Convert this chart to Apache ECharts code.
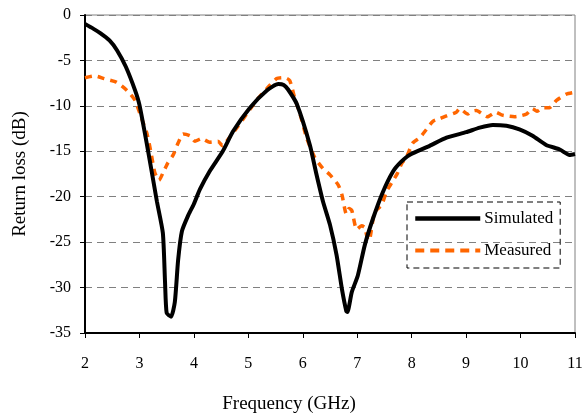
<!DOCTYPE html>
<html>
<head>
<meta charset="utf-8">
<script src="https://cdn.jsdelivr.net/npm/echarts@6/dist/echarts.min.js"></script>
<style>
  html, body { margin: 0; padding: 0; background: #fff; }
  #chart { width: 584px; height: 417px; }
</style>
</head>
<body>
<div id="chart"></div>
<script>
const simFreq = [2.0, 2.15, 2.28, 2.45, 2.59, 2.75, 2.92, 3.0, 3.16, 3.32, 3.43, 3.47, 3.5, 3.58, 3.65, 3.71, 3.78, 3.9, 4.0,
  4.11, 4.29, 4.53, 4.72, 5.03, 5.34, 5.55, 5.65, 5.73, 5.89, 6.13, 6.25, 6.37, 6.5, 6.62, 6.72, 6.8, 6.82, 6.9, 7.01,
  7.14, 7.29, 7.47, 7.66, 7.8, 7.96, 8.33, 8.64, 9.0, 9.25, 9.49, 9.74, 9.98, 10.22, 10.47, 10.72, 10.9, 11.0];
const simLoss = [-1.0, -1.5, -2.0, -2.8, -3.9, -5.7, -8.3, -9.9, -15, -20.5, -24, -29.4, -32.8, -33.2, -31.6, -27, -23.8, -22, -20.8,
  -19.2, -17.2, -15, -12.8, -10.2, -8.3, -7.6, -7.7, -8.2, -9.8, -14.3, -17.5, -20.5, -23.1, -26.4, -30.2, -32.6, -32.7, -30.5, -28.7,
  -25.3, -22.4, -19.5, -17.2, -16.2, -15.4, -14.4, -13.5, -12.9, -12.4, -12.1, -12.2, -12.6, -13.3, -14.3, -14.8, -15.4, -15.3];

const measFreq = [2.0, 2.18, 2.35, 2.58, 2.77, 2.92, 3.01, 3.14, 3.22, 3.28, 3.36, 3.43, 3.52, 3.62, 3.71, 3.8, 3.93, 4.02, 4.14,
  4.29, 4.44, 4.53, 4.6, 4.79, 4.97, 5.15, 5.34, 5.52, 5.67, 5.76, 5.85, 5.95, 6.07, 6.22, 6.37, 6.5, 6.65, 6.72, 6.8, 6.85,
  6.9, 6.99, 7.08, 7.14, 7.2, 7.23, 7.32, 7.45, 7.54, 7.65, 7.74, 7.82, 7.9, 8.02, 8.15, 8.27, 8.39, 8.52, 8.64, 8.82, 8.88,
  9.03, 9.1, 9.19, 9.3, 9.39, 9.55, 9.65, 9.74, 9.89, 10.0, 10.11, 10.22, 10.3, 10.41, 10.53, 10.66, 10.84, 11.0];
const measLoss = [-6.9, -6.7, -7.0, -7.4, -8.3, -9.4, -10.9, -13.1, -15.4, -17.3, -18.2, -17.4, -16.3, -15.4, -14.1, -13.1, -13.3, -13.9, -13.6,
  -14.0, -13.9, -14.4, -13.9, -12.4, -10.9, -9.4, -8.1, -7.0, -6.9, -7.2, -9.1, -10.9, -13.5, -15.7, -16.9, -17.6, -18.7, -19.8, -21.9, -21.3,
  -21.5, -23.6, -23.2, -23.4, -24.8, -24.7, -21.7, -20.9, -19.4, -18.3, -17.4, -16.3, -15.7, -14.1, -13.5, -12.6, -11.7, -11.4, -11.1, -10.7, -10.3,
  -10.9, -10.6, -10.5, -10.9, -11.2, -10.7, -11.0, -11.1, -11.2, -11.1, -10.9, -10.3, -10.6, -10.2, -10.2, -9.4, -8.7, -8.5];

const font = 'Liberation Serif';
const zip = (xs, ys) => xs.map((x, i) => [x, ys[i]]);

const chart = echarts.init(document.getElementById('chart'));
chart.setOption({
  animation: false,
  backgroundColor: '#fff',
  textStyle: { fontFamily: font },
  grid: {
    left: 85, right: 9, top: 15, bottom: 84,
    outerBoundsMode: 'none',
    containLabel: false,
    show: true, borderColor: '#808080', borderWidth: 1
  },
  legend: {
    orient: 'vertical',
    left: 407, top: 202,
    padding: [8, 7, 9, 6],
    itemGap: 15,
    itemWidth: 65,
    itemHeight: 14,
    borderColor: '#000',
    borderWidth: 1,
    borderType: [6, 4],
    itemStyle: { opacity: 0 },
    textStyle: { fontFamily: font, fontSize: 17, color: '#000', padding: [0, 0, 0, -1] },
    data: [
      { name: 'Simulated', lineStyle: { color: '#000', width: 4.5 } },
      { name: 'Measured', lineStyle: { color: '#FF6600', width: 4, type: [9, 6] } }
    ]
  },
  xAxis: {
    type: 'value',
    min: 2, max: 11, interval: 1,
    name: 'Frequency (GHz)',
    nameLocation: 'middle',
    nameGap: 62,
    nameTextStyle: { fontFamily: font, fontSize: 19, color: '#000', padding: [0, 82, 0, 0] },
    axisLine: { onZero: false, lineStyle: { color: '#000', width: 2 } },
    axisTick: { show: true, length: 5, lineStyle: { color: '#000', width: 1 } },
    axisLabel: { fontFamily: font, fontSize: 16, color: '#000', margin: 23 },
    splitLine: { show: false }
  },
  yAxis: {
    type: 'value',
    min: -35, max: 0, interval: 5,
    name: 'Return loss (dB)',
    nameLocation: 'middle',
    nameGap: 55,
    nameTextStyle: { fontFamily: font, fontSize: 19, color: '#000' },
    axisLine: { show: true, onZero: false, lineStyle: { color: '#000', width: 2 } },
    axisTick: { show: true, length: 5, lineStyle: { color: '#000', width: 1 } },
    axisLabel: { fontFamily: font, fontSize: 16, color: '#000', margin: 14 },
    splitLine: { show: true, lineStyle: { color: '#808080', width: 1, type: [7, 5] } }
  },
  series: [
    {
      name: 'Simulated',
      type: 'line',
      data: zip(simFreq, simLoss),
      showSymbol: false,
      symbol: 'none',
      smooth: 0.2,
      z: 3,
      lineStyle: { color: '#000', width: 4 },
      itemStyle: { color: '#000' }
    },
    {
      name: 'Measured',
      type: 'line',
      data: zip(measFreq, measLoss),
      showSymbol: false,
      symbol: 'none',
      smooth: 0.2,
      z: 2,
      lineStyle: { color: '#FF6600', width: 3.5, type: [7, 6] },
      itemStyle: { color: '#FF6600' }
    }
  ]
});
</script>
</body>
</html>
